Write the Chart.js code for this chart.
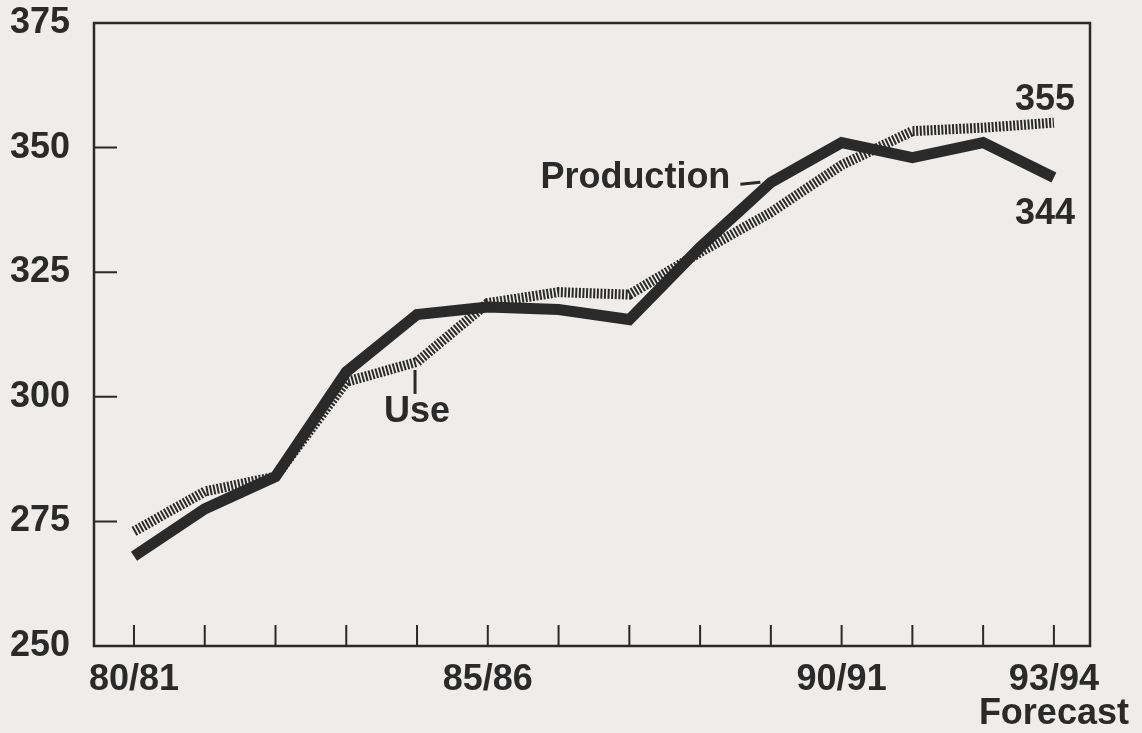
<!DOCTYPE html>
<html>
<head>
<meta charset="utf-8">
<script src="https://cdn.jsdelivr.net/npm/chart.js@4"></script>
<style>
  html, body { margin: 0; padding: 0; background: #eeedeb; }
  #wrap { width: 1142px; height: 733px; position: relative; }
</style>
</head>
<body>
<div id="wrap"><canvas id="chart"></canvas></div>
<script>
// season labels, one per year
const seasons = ["80/81", "81/82", "82/83", "83/84", "84/85", "85/86", "86/87",
                 "87/88", "88/89", "89/90", "90/91", "91/92", "92/93", "93/94"];
const labeledSeasons = [0, 5, 10, 13];
const production = [268, 277.5, 284, 305, 316.5, 318, 317.5, 315.5, 330, 343, 351, 348, 351, 344];
const use = [273, 281, 284, 303, 307, 318.8, 321, 320.5, 329, 337, 346.5, 353.3, 354, 355];
const yTicks = [250, 275, 300, 325, 350, 375];

const ink = "#2a2a2a";
const family = "'Liberation Sans', Arial, sans-serif";
const font = "bold 36px " + family;

// frame, inward tick marks and text labels
const decor = {
    id: "decor",
    afterDatasetsDraw(chart) {
        const { ctx, chartArea: a, scales: { x, y } } = chart;
        ctx.save();
        ctx.strokeStyle = ink;
        ctx.lineWidth = 2.5;
        ctx.strokeRect(a.left, a.top, a.right - a.left, a.bottom - a.top);

        ctx.lineWidth = 2;
        ctx.beginPath();
        seasons.forEach((s, i) => {
            const px = x.getPixelForValue(i);
            ctx.moveTo(px, a.bottom);
            ctx.lineTo(px, a.bottom - 21);
        });
        yTicks.slice(1, -1).forEach(v => {
            const py = y.getPixelForValue(v);
            ctx.moveTo(a.left, py);
            ctx.lineTo(a.left + 23, py);
        });
        ctx.stroke();

        ctx.font = font;
        ctx.fillStyle = ink;
        ctx.textBaseline = "middle";
        const last = seasons.length - 1;
        const lx = x.getPixelForValue(last);
        ctx.textAlign = "center";
        ctx.fillText(String(use[last]), lx - 9, y.getPixelForValue(use[last]) - 23);
        ctx.fillText(String(production[last]), lx - 9, y.getPixelForValue(production[last]) + 37);

        // Use label with vertical leader
        const ux = x.getPixelForValue(4);
        const uy = y.getPixelForValue(use[4]);
        ctx.beginPath();
        ctx.lineWidth = 3;
        ctx.moveTo(ux - 2, uy + 8);
        ctx.lineTo(ux - 2, uy + 32);
        ctx.stroke();
        ctx.fillText("Use", ux, uy + 50);

        // Production label with short leader
        const t = 0.88;
        const px = x.getPixelForValue(8 + t);
        const py = y.getPixelForValue(production[8] + t * (production[9] - production[8]));
        ctx.beginPath();
        ctx.lineWidth = 3;
        ctx.moveTo(px - 22, py - 6);
        ctx.lineTo(px - 2, py - 8);
        ctx.stroke();
        ctx.textAlign = "right";
        ctx.fillText("Production", px - 32, py - 12);
        ctx.restore();
    }
};

new Chart(document.getElementById("chart"), {
    type: "line",
    data: {
        datasets: [
            {
                label: "Use",
                data: use.map((v, i) => ({ x: i, y: v })),
                borderColor: ink,
                borderWidth: 10,
                borderDash: [2, 1.6],
                borderCapStyle: "butt",
                pointRadius: 0,
                tension: 0
            },
            {
                label: "Production",
                data: production.map((v, i) => ({ x: i, y: v })),
                borderColor: ink,
                borderWidth: 11,
                borderJoinStyle: "miter",
                borderCapStyle: "butt",
                pointRadius: 0,
                tension: 0
            }
        ]
    },
    options: {
        responsive: true,
        maintainAspectRatio: false,
        animation: false,
        layout: { padding: { top: 23, right: 52, left: 0, bottom: 0 } },
        plugins: { legend: { display: false }, tooltip: { enabled: false } },
        scales: {
            x: {
                type: "linear",
                min: -0.565,
                max: 13.51,
                grid: { display: false, drawTicks: false },
                border: { display: false },
                afterBuildTicks(scale) {
                    scale.ticks = labeledSeasons.map(i => ({ value: i }));
                },
                afterFit(scale) {
                    scale.height = 87;
                    scale.paddingLeft = 0;
                    scale.paddingRight = 0;
                },
                ticks: {
                    autoSkip: false,
                    maxRotation: 0,
                    padding: 18,
                    color: ink,
                    font: { family: family, size: 36, weight: "bold", lineHeight: 0.92 },
                    callback: v => (v === seasons.length - 1 ? [seasons[v], "Forecast"] : seasons[v])
                }
            },
            y: {
                min: 250,
                max: 375,
                grid: { display: false, drawTicks: false },
                border: { display: false },
                afterBuildTicks(scale) {
                    scale.ticks = yTicks.map(v => ({ value: v }));
                },
                afterFit(scale) {
                    scale.width = 94;
                    scale.paddingTop = 0;
                    scale.paddingBottom = 0;
                },
                ticks: {
                    padding: 24,
                    color: ink,
                    font: { family: family, size: 36, weight: "bold" }
                }
            }
        }
    },
    plugins: [decor]
});
</script>
</body>
</html>
